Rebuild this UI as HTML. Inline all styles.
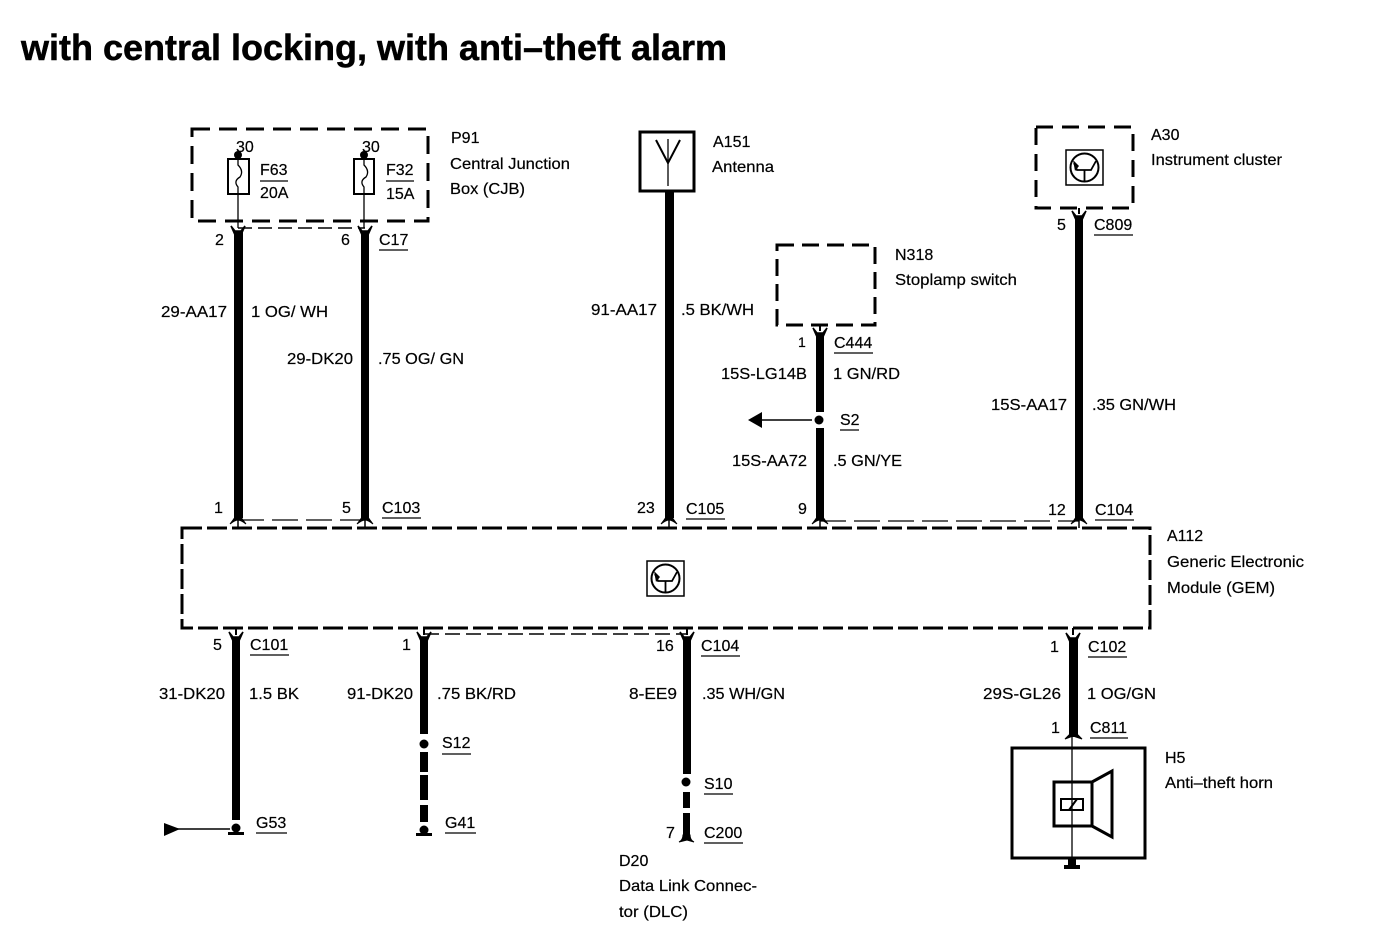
<!DOCTYPE html>
<html><head><meta charset="utf-8">
<style>
html,body{margin:0;padding:0;background:#fff;width:1376px;height:934px;overflow:hidden}
svg{display:block}
text{font-family:"Liberation Sans",sans-serif;font-size:16px;fill:#000;stroke:#000;stroke-width:.2}
.t{font-size:36px;font-weight:bold;stroke-width:.5}
.d{fill:none;stroke:#000;stroke-width:3}
.u{stroke:#000;stroke-width:1.3}
</style></head>
<body>
<svg width="1376" height="934" viewBox="0 0 1376 934" xmlns="http://www.w3.org/2000/svg">
<defs>
<g id="top"><path d="M-7,-3 L-3,2 L3,2 L7,-3 L3,6 L-3,6 Z" fill="#000" stroke="#000" stroke-width="1.5"/></g>
<g id="mod"><path d="M-8,4 Q-4,-1 -3,-3 L3,-3 Q4,-1 8,4 Q3,0 0,0 Q-3,0 -8,4 Z" fill="#000" stroke="#000"/><line x1="0" y1="0" x2="0" y2="8" stroke="#000" stroke-width="1.5"/></g>
<g id="tr"><rect x="0" y="0" width="37" height="35" fill="#fff" stroke="#000" stroke-width="1.5"/><circle cx="18.500" cy="17.500" r="14" fill="none" stroke="#000" stroke-width="2"/><path d="M8,13 L11,20 L25,20 L30,11 M18.500,20 V31" fill="none" stroke="#000" stroke-width="1.8"/><path d="M7,10 L13,16 L9,21 Z" fill="#000"/></g>
</defs>

<text class="t" x="21" y="60" textLength="706" lengthAdjust="spacingAndGlyphs">with central locking, with anti–theft alarm</text>

<!-- boxes -->
<rect class="d" x="192" y="129" width="236" height="92" stroke-dasharray="18 9"/>
<rect class="d" x="182" y="528" width="968" height="100" stroke-dasharray="20 5"/>
<rect class="d" x="777" y="245" width="98" height="80" stroke-dasharray="17 8"/>
<rect class="d" x="1036" y="127" width="97" height="81" stroke-dasharray="17 9"/>
<rect x="640" y="132" width="54" height="59" fill="none" stroke="#000" stroke-width="3"/>
<path d="M656,140 L668,163 L680,140" fill="none" stroke="#000" stroke-width="2"/>
<line x1="668" y1="139" x2="668" y2="186" stroke="#000" stroke-width="1.3"/>

<!-- thin links -->
<line x1="238" y1="228" x2="365" y2="228" stroke="#000" stroke-width="1.5" stroke-dasharray="14 6"/>
<line x1="238" y1="520" x2="365" y2="520" stroke="#000" stroke-width="1.2" stroke-dasharray="26 8"/>
<line x1="820" y1="521" x2="1079" y2="521" stroke="#000" stroke-width="1.2" stroke-dasharray="26 8"/>
<line x1="424" y1="634" x2="687" y2="634" stroke="#000" stroke-width="1.5" stroke-dasharray="15 6"/>

<!-- fuses -->
<g fill="none" stroke="#000">
<rect x="228" y="159" width="21" height="35" stroke-width="2"/>
<rect x="354" y="159" width="20" height="35" stroke-width="2"/>
<path d="M238,155 V165 Q244,171 240,177 Q233,181 238,187 V228" stroke-width="1.3"/>
<path d="M364,155 V165 Q370,171 366,177 Q359,181 364,187 V228" stroke-width="1.3"/>
</g>
<circle cx="238" cy="155" r="4"/>
<circle cx="364" cy="155" r="4"/>

<!-- upper wires -->
<g fill="#000">
<rect x="234" y="232" width="9" height="286"/>
<rect x="361" y="232" width="8" height="286"/>
<rect x="665" y="192" width="9" height="326"/>
<rect x="816" y="333" width="8" height="79"/>
<rect x="816" y="428" width="8" height="90"/>
<rect x="1075" y="216" width="8" height="302"/>
</g>
<use href="#top" x="238" y="229"/>
<use href="#top" x="365" y="229"/>
<use href="#top" x="820" y="331"/>
<use href="#top" x="1079" y="214"/>
<line x1="1079" y1="208" x2="1079" y2="214" stroke="#000" stroke-width="2"/>
<line x1="820" y1="325" x2="820" y2="331" stroke="#000" stroke-width="2"/>
<use href="#mod" x="238" y="520"/>
<use href="#mod" x="365" y="520"/>
<use href="#mod" x="669" y="520"/>
<use href="#mod" x="820" y="520"/>
<use href="#mod" x="1079" y="520"/>

<!-- S2 -->
<circle cx="819" cy="420" r="4.500"/>
<line x1="760" y1="420" x2="812" y2="420" stroke="#000" stroke-width="1.5"/>
<path d="M748,420 L762,412 V428 Z" fill="#000"/>

<use href="#tr" x="647" y="561"/>
<use href="#tr" x="1066" y="150"/>

<!-- lower wires -->
<g fill="#000">
<rect x="232" y="638" width="8" height="182"/>
<rect x="420" y="638" width="8" height="96"/>
<rect x="420" y="752" width="8" height="20"/>
<rect x="420" y="775" width="8" height="25"/>
<rect x="420" y="805" width="8" height="17"/>
<rect x="683" y="638" width="8" height="136"/>
<rect x="683" y="792" width="7" height="16"/>
<rect x="683" y="813" width="7" height="27"/>
<rect x="1069" y="638" width="9" height="99"/>
</g>
<g stroke="#000" stroke-width="2">
<line x1="236" y1="628" x2="236" y2="635"/>
<line x1="424" y1="628" x2="424" y2="635"/>
<line x1="687" y1="628" x2="687" y2="635"/>
<line x1="1073" y1="628" x2="1073" y2="635"/>
</g>
<use href="#top" x="236" y="635"/>
<use href="#top" x="424" y="635"/>
<use href="#top" x="687" y="635"/>
<use href="#top" x="1073" y="636"/>
<path d="M1065,739 L1070,734 H1077 L1082,739 L1073,736 Z" fill="#000" stroke="#000"/>

<!-- grounds -->
<circle cx="236" cy="828" r="4.500"/>
<rect x="228" y="832" width="16" height="3"/>
<line x1="176" y1="829" x2="230" y2="829" stroke="#000" stroke-width="1.5"/>
<path d="M164,823 L180,829 L164,836 Z" fill="#000"/>
<circle cx="424" cy="744" r="4.500"/>
<circle cx="424" cy="830" r="4.500"/>
<rect x="416" y="833" width="16" height="3"/>
<circle cx="686" cy="782" r="4.500"/>
<path d="M679,842 Q683,840 683,835 H690 Q690,840 694,842 L687,840 Z" fill="#000" stroke="#000"/>

<!-- horn -->
<rect x="1012" y="748" width="133" height="110" fill="none" stroke="#000" stroke-width="3"/>
<rect x="1054" y="782" width="38" height="44" fill="none" stroke="#000" stroke-width="3"/>
<path d="M1092,782 L1112,771 V837 L1092,826" fill="none" stroke="#000" stroke-width="3"/>
<rect x="1061" y="799" width="22" height="11" fill="none" stroke="#000" stroke-width="2"/>
<line x1="1069" y1="810" x2="1077" y2="799" stroke="#000" stroke-width="2"/>
<line x1="1072" y1="737" x2="1072" y2="860" stroke="#000" stroke-width="1.3"/>
<rect x="1068" y="858" width="8" height="9"/>
<rect x="1064" y="865" width="16" height="4"/>

<!-- labels -->
<text x="236" y="152">30</text>
<text x="362" y="152">30</text>
<text x="260" y="175">F63</text><line class="u" x1="260" y1="181" x2="288" y2="181"/>
<text x="260" y="198">20A</text>
<text x="386" y="175">F32</text><line class="u" x1="386" y1="181" x2="414" y2="181"/>
<text x="386" y="199">15A</text>
<text x="451" y="143">P91</text>
<text x="450" y="169" textLength="120" lengthAdjust="spacingAndGlyphs">Central Junction</text>
<text x="450" y="194" textLength="75" lengthAdjust="spacingAndGlyphs">Box (CJB)</text>

<text x="215" y="245">2</text>
<text x="341" y="245">6</text>
<text x="379" y="245">C17</text><line class="u" x1="379" y1="250" x2="408" y2="250"/>
<text x="161" y="317" textLength="66" lengthAdjust="spacingAndGlyphs">29-AA17</text>
<text x="251" y="317" textLength="77" lengthAdjust="spacingAndGlyphs">1 OG/ WH</text>
<text x="287" y="364" textLength="66" lengthAdjust="spacingAndGlyphs">29-DK20</text>
<text x="378" y="364" textLength="86" lengthAdjust="spacingAndGlyphs">.75 OG/ GN</text>
<text x="214" y="513">1</text>
<text x="342" y="513">5</text>
<text x="382" y="513">C103</text><line class="u" x1="382" y1="518" x2="421" y2="518"/>

<text x="637" y="513">23</text>
<text x="686" y="514">C105</text><line class="u" x1="686" y1="519" x2="725" y2="519"/>
<text x="713" y="147">A151</text>
<text x="712" y="172" textLength="62" lengthAdjust="spacingAndGlyphs">Antenna</text>
<text x="591" y="315" textLength="66" lengthAdjust="spacingAndGlyphs">91-AA17</text>
<text x="681" y="315" textLength="73" lengthAdjust="spacingAndGlyphs">.5 BK/WH</text>

<text x="895" y="260">N318</text>
<text x="895" y="285" textLength="122" lengthAdjust="spacingAndGlyphs">Stoplamp switch</text>
<text x="798" y="347" style="font-size:14px">1</text>
<text x="834" y="348">C444</text><line class="u" x1="834" y1="353" x2="873" y2="353"/>
<text x="721" y="379" textLength="86" lengthAdjust="spacingAndGlyphs">15S-LG14B</text>
<text x="833" y="379" textLength="67" lengthAdjust="spacingAndGlyphs">1 GN/RD</text>
<text x="840" y="425">S2</text><line class="u" x1="840" y1="430" x2="859" y2="430"/>
<text x="732" y="466" textLength="75" lengthAdjust="spacingAndGlyphs">15S-AA72</text>
<text x="833" y="466" textLength="69" lengthAdjust="spacingAndGlyphs">.5 GN/YE</text>
<text x="798" y="514">9</text>

<text x="1151" y="140">A30</text>
<text x="1151" y="165" textLength="131" lengthAdjust="spacingAndGlyphs">Instrument cluster</text>
<text x="1057" y="230">5</text>
<text x="1094" y="230">C809</text><line class="u" x1="1094" y1="235" x2="1133" y2="235"/>
<text x="991" y="410" textLength="76" lengthAdjust="spacingAndGlyphs">15S-AA17</text>
<text x="1092" y="410" textLength="84" lengthAdjust="spacingAndGlyphs">.35 GN/WH</text>
<text x="1048" y="515">12</text>
<text x="1095" y="515">C104</text><line class="u" x1="1095" y1="520" x2="1134" y2="520"/>

<text x="1167" y="541">A112</text>
<text x="1167" y="567" textLength="137" lengthAdjust="spacingAndGlyphs">Generic Electronic</text>
<text x="1167" y="593" textLength="108" lengthAdjust="spacingAndGlyphs">Module (GEM)</text>

<text x="213" y="650">5</text>
<text x="250" y="650">C101</text><line class="u" x1="250" y1="655" x2="289" y2="655"/>
<text x="159" y="699" textLength="66" lengthAdjust="spacingAndGlyphs">31-DK20</text>
<text x="249" y="699" textLength="50" lengthAdjust="spacingAndGlyphs">1.5 BK</text>
<text x="256" y="828">G53</text><line class="u" x1="256" y1="833" x2="287" y2="833"/>

<text x="402" y="650">1</text>
<text x="347" y="699" textLength="66" lengthAdjust="spacingAndGlyphs">91-DK20</text>
<text x="437" y="699" textLength="79" lengthAdjust="spacingAndGlyphs">.75 BK/RD</text>
<text x="442" y="748">S12</text><line class="u" x1="442" y1="754" x2="471" y2="754"/>
<text x="445" y="828">G41</text><line class="u" x1="445" y1="833" x2="476" y2="833"/>

<text x="656" y="651">16</text>
<text x="701" y="651">C104</text><line class="u" x1="701" y1="656" x2="740" y2="656"/>
<text x="629" y="699" textLength="48" lengthAdjust="spacingAndGlyphs">8-EE9</text>
<text x="702" y="699" textLength="83" lengthAdjust="spacingAndGlyphs">.35 WH/GN</text>
<text x="704" y="789">S10</text><line class="u" x1="704" y1="794" x2="733" y2="794"/>
<text x="666" y="838">7</text>
<text x="704" y="838">C200</text><line class="u" x1="704" y1="843" x2="743" y2="843"/>
<text x="619" y="866">D20</text>
<text x="619" y="891" textLength="138" lengthAdjust="spacingAndGlyphs">Data Link Connec-</text>
<text x="619" y="917" textLength="69" lengthAdjust="spacingAndGlyphs">tor (DLC)</text>

<text x="1050" y="652">1</text>
<text x="1088" y="652">C102</text><line class="u" x1="1088" y1="657" x2="1127" y2="657"/>
<text x="983" y="699" textLength="78" lengthAdjust="spacingAndGlyphs">29S-GL26</text>
<text x="1087" y="699" textLength="69" lengthAdjust="spacingAndGlyphs">1 OG/GN</text>
<text x="1051" y="733">1</text>
<text x="1090" y="733">C811</text><line class="u" x1="1090" y1="738" x2="1128" y2="738"/>
<text x="1165" y="763">H5</text>
<text x="1165" y="788" textLength="108" lengthAdjust="spacingAndGlyphs">Anti–theft horn</text>
</svg>
</body></html>
